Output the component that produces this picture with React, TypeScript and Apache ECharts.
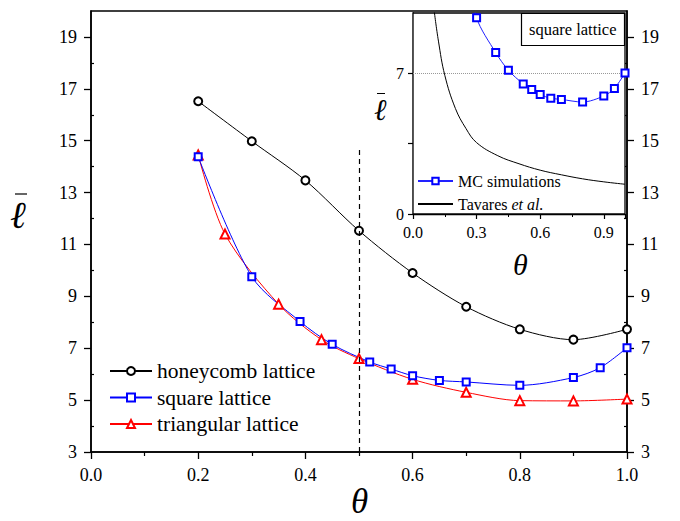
import React, { useEffect, useRef } from 'react';
import * as echarts from 'echarts';

// Main panel: mean cluster size vs coverage for three lattices
const honeyTheta = [0.2, 0.3, 0.4, 0.5, 0.6, 0.7, 0.8, 0.9, 1.0];
const honeyL = [16.52, 14.98, 13.47, 11.53, 9.9, 8.6, 7.73, 7.33, 7.73];

const squareTheta = [0.2, 0.3, 0.39, 0.45, 0.52, 0.56, 0.6, 0.65, 0.7, 0.8, 0.9, 0.95, 1.0];
const squareL = [14.38, 9.76, 8.03, 7.15, 6.47, 6.2, 5.94, 5.76, 5.7, 5.57, 5.87, 6.25, 7.02];

const triTheta = [0.2, 0.25, 0.35, 0.43, 0.5, 0.6, 0.7, 0.8, 0.9, 1.0];
const triL = [14.45, 11.4, 8.7, 7.33, 6.6, 5.8, 5.3, 4.98, 4.97, 5.04];

// Inset: analytic curve of Tavares et al.
const tavTheta = [0.1, 0.12, 0.15, 0.2, 0.25, 0.3, 0.4, 0.5, 0.6, 0.7, 0.8, 0.9, 1.0];
const tavL = [10.1, 8.6, 6.9, 5.25, 4.25, 3.55, 2.9, 2.5, 2.18, 1.95, 1.75, 1.6, 1.48];

// Axis ticks
const yMajor = [3, 5, 7, 9, 11, 13, 15, 17, 19];
const yMinor = [4, 6, 8, 10, 12, 14, 16, 18];
const insetYLabels = [0, 7];

// Vertical divider and inset reference level
const dividerTheta = 0.5;
const dividerTop = 14.75;
const refLevel = 7;

const SERIF = 'Liberation Serif, DejaVu Serif, serif';
const pairs = (xs: number[], ys: number[]) => xs.map((x, i) => [x, ys[i]]);

export default function App() {
  const ref = useRef<HTMLDivElement>(null);

  useEffect(() => {
    document.body.style.margin = '0';
    const chart = echarts.init(ref.current!, null, { renderer: 'svg' });

    const axisLine = { show: true, lineStyle: { color: '#000', width: 1.5 } };

    const mainY = (position: string) => ({
      type: 'value',
      gridIndex: 0,
      position,
      min: 3,
      max: 20,
      axisLine,
      splitLine: { show: false },
      axisTick: { show: true, customValues: yMajor, length: 7, lineStyle: { color: '#000', width: 1.3 } },
      axisLabel: {
        show: true,
        customValues: yMajor,
        margin: 14,
        fontFamily: SERIF,
        fontSize: 18,
        color: '#000',
      },
    });
    const minorY = (position: string) => ({
      type: 'value',
      gridIndex: 0,
      position,
      min: 3,
      max: 20,
      axisLine: { show: false },
      splitLine: { show: false },
      axisTick: { show: true, inside: true, customValues: yMinor, length: 3, lineStyle: { color: '#000', width: 1.2 } },
      axisLabel: { show: false },
    });

    const glyph = (text: string, left: number, top: number, size: number, z = 1) => ({
      type: 'text',
      left,
      top,
      z,
      style: { text, fontFamily: SERIF, fontSize: size, fontStyle: 'italic', lineHeight: size - 2, fill: '#000' },
    });

    chart.setOption({
      animation: false,
      backgroundColor: '#fff',
      textStyle: { fontFamily: SERIF, color: '#000' },
      title: {
        text: 'square lattice',
        left: 521,
        top: 13,
        padding: [8, 8],
        borderColor: '#000',
        borderWidth: 1.2,
        backgroundColor: '#fff',
        textStyle: { fontFamily: SERIF, fontSize: 16.5, fontWeight: 'normal', color: '#000' },
        z: 10,
      },
      grid: [
        { left: 91, right: 53, top: 11, bottom: 69, show: true, borderColor: '#000', borderWidth: 1.5 },
        { left: 413, right: 55, top: 13, bottom: 307, show: true, borderColor: '#000', borderWidth: 1.3, backgroundColor: '#fff', z: 5 },
      ],
      legend: [
        {
          data: ['honeycomb lattice', 'square lattice', 'triangular lattice'],
          orient: 'vertical',
          left: 109,
          top: 360,
          padding: 0,
          itemWidth: 42,
          itemHeight: 10,
          itemGap: 4.5,
          selectedMode: false,
          textStyle: { fontFamily: SERIF, fontSize: 21.5, color: '#000' },
        },
        {
          data: [
            'MC simulations',
            { name: 'Tavares et al.', itemStyle: { color: 'rgba(0,0,0,0)', borderWidth: 0, opacity: 0 } },
          ],
          orient: 'vertical',
          left: 417,
          top: 173,
          padding: 0,
          itemWidth: 35,
          itemHeight: 8,
          itemGap: 7,
          selectedMode: false,
          formatter: (name: string) => (name === 'Tavares et al.' ? '{t|Tavares }{i|et al.}' : name),
          textStyle: {
            fontFamily: SERIF,
            fontSize: 16,
            color: '#000',
            rich: {
              t: { fontFamily: SERIF, fontSize: 16, color: '#000' },
              i: { fontFamily: SERIF, fontSize: 16, color: '#000', fontStyle: 'italic' },
            },
          },
          z: 10,
        },
      ],
      xAxis: [
        {
          type: 'value',
          gridIndex: 0,
          min: 0,
          max: 1,
          interval: 0.2,
          axisLine,
          splitLine: { show: false },
          axisTick: { show: true, length: 7, lineStyle: { color: '#000', width: 1.3 } },
          minorTick: { show: true, splitNumber: 2, length: 4, lineStyle: { color: '#000', width: 1.2 } },
          axisLabel: {
            margin: 14,
            fontFamily: SERIF,
            fontSize: 18,
            color: '#000',
            formatter: (v: number) => v.toFixed(1),
          },
        },
        {
          type: 'value',
          gridIndex: 1,
          min: 0,
          max: 1,
          interval: 0.3,
          axisLine: { show: true, lineStyle: { color: '#000', width: 1.3 } },
          splitLine: { show: false },
          axisTick: { show: true, length: 5, lineStyle: { color: '#000', width: 1.2 } },
          minorTick: { show: true, splitNumber: 2, length: 3, lineStyle: { color: '#000', width: 1 } },
          axisLabel: {
            margin: 10,
            showMaxLabel: false,
            fontFamily: SERIF,
            fontSize: 16,
            color: '#000',
            formatter: (v: number) => (v > 0.95 ? '' : v.toFixed(1)),
          },
        },
      ],
      yAxis: [
        mainY('left'),
        mainY('right'),
        minorY('left'),
        minorY('right'),
        {
          type: 'value',
          gridIndex: 1,
          min: 0,
          max: 10,
          axisLine: { show: true, lineStyle: { color: '#000', width: 1.3 } },
          splitLine: { show: false },
          axisTick: { show: true, customValues: [0, 3.5, 7], length: 5, lineStyle: { color: '#000', width: 1.2 } },
          axisLabel: {
            customValues: insetYLabels,
            margin: 9,
            fontFamily: SERIF,
            fontSize: 16,
            color: '#000',
          },
        },
      ],
      graphic: [
        // ℓ̄ label of the main panel
        glyph('ℓ', 10, 196, 38),
        { type: 'line', shape: { x1: 15, y1: 194, x2: 27, y2: 194 }, style: { stroke: '#000', lineWidth: 1.2 } },
        glyph('θ', 351, 484, 35),
        // labels of the inset
        glyph('ℓ', 374, 94, 30, 20),
        { type: 'line', z: 20, shape: { x1: 377, y1: 93.5, x2: 385, y2: 93.5 }, style: { stroke: '#000', lineWidth: 1 } },
        glyph('θ', 513, 249, 30, 20),
      ],
      series: [
        {
          name: 'honeycomb lattice',
          type: 'line',
          xAxisIndex: 0,
          yAxisIndex: 0,
          data: pairs(honeyTheta, honeyL),
          smooth: 0.3,
          symbol: 'emptyCircle',
          symbolSize: 8,
          color: '#000',
          lineStyle: { color: '#000', width: 1 },
          itemStyle: { color: '#000', borderWidth: 1.3 },
          markLine: {
            silent: true,
            symbol: ['none', 'none'],
            label: { show: false },
            lineStyle: { color: '#000', type: [5, 4], width: 1.2 },
            data: [[{ coord: [dividerTheta, 3] }, { coord: [dividerTheta, dividerTop] }]],
          },
        },
        {
          name: 'triangular lattice',
          type: 'line',
          xAxisIndex: 0,
          yAxisIndex: 0,
          data: pairs(triTheta, triL),
          smooth: 0.3,
          symbol: 'emptyTriangle',
          symbolSize: 9,
          color: '#ff0000',
          lineStyle: { color: '#ff0000', width: 1 },
          itemStyle: { color: '#ff0000', borderWidth: 1.3 },
        },
        {
          name: 'square lattice',
          type: 'line',
          xAxisIndex: 0,
          yAxisIndex: 0,
          data: pairs(squareTheta, squareL),
          smooth: 0.3,
          symbol: 'emptyRect',
          symbolSize: 7,
          color: '#0000ff',
          lineStyle: { color: '#0000ff', width: 1 },
          itemStyle: { color: '#0000ff', borderWidth: 1.3 },
        },
        {
          name: 'Tavares et al.',
          type: 'line',
          xAxisIndex: 1,
          yAxisIndex: 4,
          data: pairs(tavTheta, tavL),
          smooth: 0.4,
          symbol: 'none',
          color: '#000',
          lineStyle: { color: '#000', width: 1 },
          z: 6,
        },
        {
          name: 'MC simulations',
          type: 'line',
          xAxisIndex: 1,
          yAxisIndex: 4,
          data: pairs(squareTheta, squareL),
          smooth: 0.3,
          clip: true,
          symbol: 'emptyRect',
          symbolSize: 7,
          color: '#0000ff',
          lineStyle: { color: '#2222ff', width: 1 },
          itemStyle: { color: '#0000ff', borderWidth: 1.2 },
          z: 6,
          markLine: {
            silent: true,
            symbol: ['none', 'none'],
            label: { show: false },
            lineStyle: { color: '#999', type: 'dotted', width: 1 },
            data: [{ yAxis: refLevel }],
          },
        },
      ],
    });

    return () => chart.dispose();
  }, []);

  return <div ref={ref} style={{ width: 680, height: 521 }} />;
}
